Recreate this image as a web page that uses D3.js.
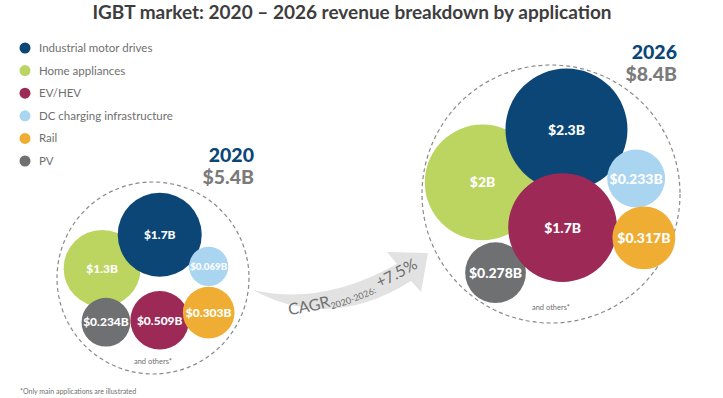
<!DOCTYPE html>
<html>
<head>
<meta charset="utf-8">
<script src="https://d3js.org/d3.v7.min.js"></script>
<style>
  body { margin: 0; background: #fff; }
  svg { display: block; font-family: Lato, "Open Sans", sans-serif; }
</style>
</head>
<body>
<svg id="chart" width="723" height="398"></svg>
<script>
// data
const categories = ["Industrial motor drives", "Home appliances", "EV/HEV", "DC charging infrastructure", "Rail", "PV"];
const values2020 = [1.7, 1.3, 0.509, 0.069, 0.303, 0.234];
const values2026 = [2.3, 2.0, 1.7, 0.233, 0.317, 0.278];
const years = ["2020", "2026"];
const totals = ["$5.4B", "$8.4B"];
const cagrLabel = "+7.5%";

const colors = ["#0b4677", "#bcd561", "#9d2a56", "#a9d5f1", "#efae33", "#6e7072"];
const color = d3.scaleOrdinal(categories, colors);

// bubble cluster layout, in units of the dashed circle radius
const panels = [
  { values: values2020, cx: 153, cy: 278, R: 96, rMin: 14, rMax: 42, yearX: 254, yearY: 162,
    spots: [[0.07, -0.45], [-0.53, -0.1], [0.07, 0.44], [0.58, -0.12], [0.58, 0.36], [-0.49, 0.46]] },
  { values: values2026, cx: 551, cy: 194, R: 129, rMin: 14, rMax: 61, yearX: 677, yearY: 59,
    spots: [[0.12, -0.5], [-0.53, -0.09], [0.09, 0.26], [0.66, -0.12], [0.72, 0.34], [-0.43, 0.61]] }
];
const drawOrder = [1, 0, 3, 5, 2, 4];

const svg = d3.select("#chart");

svg.append("text")
  .attr("x", 352).attr("y", 19)
  .attr("text-anchor", "middle")
  .attr("fill", "#3d3d3d")
  .attr("font-size", 19).attr("font-weight", 700)
  .text("IGBT market: 2020 \u2013 2026 revenue breakdown by application");

// legend
const legendY = d3.scalePoint().domain(categories).range([48, 161]);
const legend = svg.append("g").selectAll("g")
  .data(categories).enter().append("g")
  .attr("transform", d => `translate(25, ${legendY(d)})`);
legend.append("circle").attr("r", 5.5).attr("fill", d => color(d));
legend.append("text")
  .attr("x", 14).attr("dy", "0.35em")
  .attr("font-size", 11.5).attr("fill", "#6f6f6f")
  .text(d => d);

// growth arrow
svg.append("path")
  .attr("d", "M253,290 Q330,332 411,281 L421,292 L428,253 L387,252 L397,264 Q322,306 253,290 Z")
  .attr("fill", "#e2e2e2");

svg.append("defs").append("path")
  .attr("id", "cagrPath")
  .attr("d", "M289,315 Q348,308 414,270");

const cagr = svg.append("text")
  .attr("fill", "#6f6f6f").attr("font-size", 16)
  .append("textPath").attr("href", "#cagrPath");
cagr.append("tspan").text("CAGR");
cagr.append("tspan").attr("font-size", 9).attr("dy", 3).text("2020-2026:");
cagr.append("tspan").attr("dy", -3).text(" " + cagrLabel);

panels.forEach((p, k) => {
  const g = svg.append("g");
  const x = d3.scaleLinear().domain([-1, 1]).range([p.cx - p.R, p.cx + p.R]);
  const y = d3.scaleLinear().domain([-1, 1]).range([p.cy - p.R, p.cy + p.R]);
  const r = d3.scaleSqrt().domain([0, d3.max(p.values)]).range([p.rMin, p.rMax]);

  g.append("circle")
    .attr("cx", p.cx).attr("cy", p.cy).attr("r", p.R)
    .attr("fill", "none").attr("stroke", "#8a8a8a")
    .attr("stroke-width", 1.2).attr("stroke-dasharray", "4,3");

  const bubbles = g.selectAll(".bubble")
    .data(drawOrder.map(i => ({ cat: categories[i], v: p.values[i], spot: p.spots[i] })))
    .enter().append("g")
    .attr("class", "bubble")
    .attr("transform", d => `translate(${x(d.spot[0])}, ${y(d.spot[1])})`);

  bubbles.append("circle")
    .attr("r", d => r(d.v))
    .attr("fill", d => color(d.cat));

  bubbles.append("text")
    .attr("text-anchor", "middle").attr("dy", "0.36em")
    .attr("fill", "#fff").attr("font-weight", 900)
    .attr("font-size", k === 0 ? 12 : 14)
    .text(d => `$${d.v}B`)
    .each(function (d) {
      // shrink labels that would not fit in small bubbles
      const w = this.getComputedTextLength();
      const room = 2 * r(d.v) * 0.94;
      if (w > room) d3.select(this).attr("font-size", +d3.select(this).attr("font-size") * room / w);
    });

  g.append("text")
    .attr("x", p.cx).attr("y", p.cy + p.R * 0.9)
    .attr("text-anchor", "middle")
    .attr("font-size", 7.5).attr("fill", "#6f6f6f")
    .text("and others*");

  g.append("text")
    .attr("x", p.yearX).attr("y", p.yearY)
    .attr("text-anchor", "end")
    .attr("font-size", 19.5).attr("font-weight", 900)
    .attr("fill", "#0b4677")
    .text(years[k]);

  g.append("text")
    .attr("x", p.yearX).attr("y", p.yearY + 21.5)
    .attr("text-anchor", "end")
    .attr("font-size", 19.5).attr("font-weight", 900)
    .attr("fill", "#7b7b7b")
    .text(totals[k]);
});

svg.append("text")
  .attr("x", 20).attr("y", 394)
  .attr("font-size", 7).attr("fill", "#6f6f6f")
  .text("*Only main applications are illustrated");
</script>
</body>
</html>
